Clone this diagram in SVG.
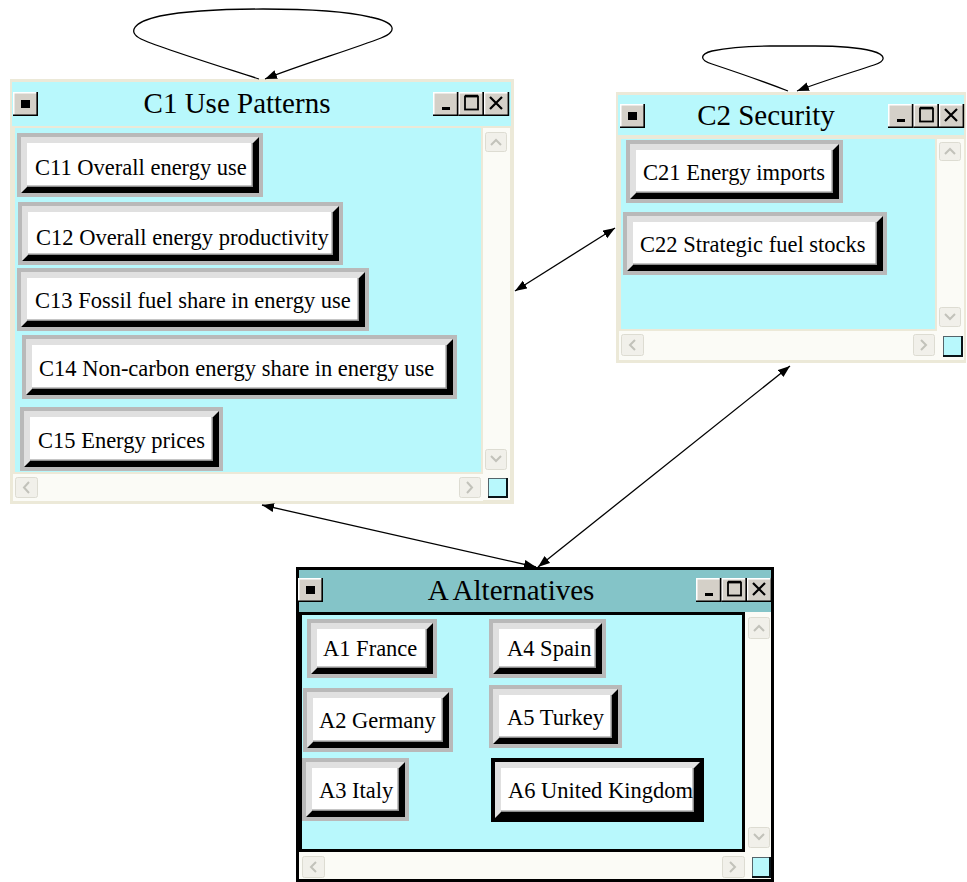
<svg xmlns="http://www.w3.org/2000/svg" xmlns:xlink="http://www.w3.org/1999/xlink" width="967" height="882" viewBox="0 0 967 882">
<style>
.frame{fill:#ece9d8}
.cy{fill:#b8f8fc}
.teal{fill:#84c4c8}
.track{fill:#fbfbf6}
.sbtn{fill:#f1f0ea;stroke:#dddcd2;stroke-width:1}
.chev{fill:none;stroke:#c2c2ba;stroke-width:2}
.corner{fill:#b8f8fc;stroke:#54646a;stroke-width:1}
.cornsh{fill:none;stroke:#0a1418;stroke-width:2}
.gray{fill:#b9b9b9}
.blk{fill:#000}
.lite{fill:#e0e0e0}
.face{fill:#fff}
.inner{fill:none;stroke:#8c8c8c;stroke-width:1.5}
.lbl{font-family:"Liberation Serif","Times New Roman",serif;font-size:22.5px;fill:#000}
.ttl{font-family:"Liberation Serif","Times New Roman",serif;font-size:29px;fill:#000;text-anchor:middle}
.conn{fill:none;stroke:#000;stroke-width:1.3}
.tb{fill:#d4d0c8}
.hi{fill:none;stroke:#fff;stroke-width:1.5}
.sh{fill:none;stroke:#000;stroke-width:1.6}
</style>
<defs>
<marker id="ah" markerUnits="userSpaceOnUse" markerWidth="13" markerHeight="10" refX="12" refY="4.5" orient="auto-start-reverse">
<path d="M0,0 L12,4.5 L0,9 z" fill="#000"/>
</marker>
<g id="btn1">
<rect class="tb" x="0" y="0" width="25" height="24"/>
<polyline class="hi" points="0.75,23 0.75,0.75 24,0.75"/>
<polyline class="sh" points="0,23.2 24.2,23.2 24.2,0"/>
<rect x="8" y="8" width="9" height="8" fill="#000"/>
</g>
<g id="btns3">
<rect class="tb" x="0" y="0" width="76" height="24"/>
<polyline class="hi" points="0.75,23 0.75,0.75 24,0.75"/>
<polyline class="hi" points="26,23 26,0.75 49,0.75"/>
<polyline class="hi" points="51.5,23 51.5,0.75 75,0.75"/>
<polyline class="sh" points="0,23.2 24.6,23.2 24.6,0"/>
<polyline class="sh" points="25.4,23.2 50.2,23.2 50.2,0"/>
<polyline class="sh" points="51,23.2 75.4,23.2 75.4,0"/>
<rect x="9" y="15" width="8" height="3" fill="#000"/>
<rect x="32" y="4.5" width="13" height="13" fill="none" stroke="#000" stroke-width="1.8"/>
<line x1="32" y1="3.5" x2="45" y2="3.5" stroke="#000" stroke-width="1.5"/>
<path d="M57,5 L69,17 M69,5 L57,17" stroke="#000" stroke-width="2.2" fill="none"/>
</g>
</defs>

<!-- Window C1 -->
<g id="C1">
<rect class="frame" x="10" y="79" width="504" height="425"/>
<rect class="cy" x="12" y="82" width="499" height="44"/>
<use xlink:href="#btn1" x="13" y="92"/>
<use xlink:href="#btns3" x="433" y="92"/>
<text class="ttl" x="237" y="113">C1 Use Patterns</text>
<rect class="cy" x="15" y="128" width="466" height="344"/>
<rect class="track" x="483" y="128" width="27" height="372"/>
<rect class="track" x="13" y="474" width="470" height="27"/>
<rect class="sbtn" x="485.5" y="132.5" width="21" height="19" rx="2"/>
<polyline class="chev" points="491,145 496,140 501,145"/>
<rect class="sbtn" x="485.5" y="449.5" width="21" height="20" rx="2"/>
<polyline class="chev" points="491,456 496,461 501,456"/>
<rect class="sbtn" x="15.5" y="477.5" width="22" height="20" rx="2"/>
<polyline class="chev" points="29,482 24,487.5 29,493"/>
<rect class="sbtn" x="459.5" y="477.5" width="21" height="20" rx="2"/>
<polyline class="chev" points="467,482 472,487.5 467,493"/>
<rect class="corner" x="488.5" y="478.5" width="18" height="18"/>
<polyline class="cornsh" points="488,497 507,497 507,478"/>
</g>

<g id="C11">
<rect class="gray" x="17" y="133" width="246" height="64"/>
<rect class="blk" x="21" y="137" width="238" height="56"/>
<polygon class="lite" points="21,137 259,137 253,143 27,187 21,193"/>
<rect class="face" x="27" y="143" width="226" height="44"/>
<polyline class="inner" points="27,186.25 252.25,186.25 252.25,143"/>
<text class="lbl" x="35" y="175">C11 Overall energy use</text>
</g>
<g id="C12">
<rect class="gray" x="18" y="202" width="325" height="63"/>
<rect class="blk" x="22" y="206" width="317" height="55"/>
<polygon class="lite" points="22,206 339,206 333,212 28,255 22,261"/>
<rect class="face" x="28" y="212" width="305" height="43"/>
<polyline class="inner" points="28,254.25 332.25,254.25 332.25,212"/>
<text class="lbl" x="36" y="245">C12 Overall energy productivity</text>
</g>
<g id="C13">
<rect class="gray" x="17" y="268" width="352" height="63"/>
<rect class="blk" x="21" y="272" width="344" height="55"/>
<polygon class="lite" points="21,272 365,272 359,278 27,321 21,327"/>
<rect class="face" x="27" y="278" width="332" height="43"/>
<polyline class="inner" points="27,320.25 358.25,320.25 358.25,278"/>
<text class="lbl" x="35" y="308">C13 Fossil fuel share in energy use</text>
</g>
<g id="C14">
<rect class="gray" x="22" y="335" width="435" height="64"/>
<rect class="blk" x="26" y="339" width="427" height="56"/>
<polygon class="lite" points="26,339 453,339 447,345 32,389 26,395"/>
<rect class="face" x="32" y="345" width="415" height="44"/>
<polyline class="inner" points="32,388.25 446.25,388.25 446.25,345"/>
<text class="lbl" x="39" y="376">C14 Non-carbon energy share in energy use</text>
</g>
<g id="C15">
<rect class="gray" x="20" y="407" width="203" height="64"/>
<rect class="blk" x="24" y="411" width="195" height="56"/>
<polygon class="lite" points="24,411 219,411 213,417 30,461 24,467"/>
<rect class="face" x="30" y="417" width="183" height="44"/>
<polyline class="inner" points="30,460.25 212.25,460.25 212.25,417"/>
<text class="lbl" x="38" y="448">C15 Energy prices</text>
</g>

<!-- Window C2 -->
<g id="C2">
<rect class="frame" x="616" y="92" width="350" height="271"/>
<rect class="cy" x="618" y="95" width="346" height="40"/>
<use xlink:href="#btn1" x="620" y="104"/>
<use xlink:href="#btns3" x="888" y="104"/>
<text class="ttl" x="766" y="125">C2 Security</text>
<rect class="cy" x="621" y="139" width="314" height="190"/>
<rect class="track" x="937" y="139" width="27" height="221"/>
<rect class="track" x="619" y="331" width="318" height="29"/>
<rect class="sbtn" x="939.5" y="142.5" width="21" height="18" rx="2"/>
<polyline class="chev" points="945,154 950,149 955,154"/>
<rect class="sbtn" x="939.5" y="307.5" width="21" height="19" rx="2"/>
<polyline class="chev" points="945,314 950,319 955,314"/>
<rect class="sbtn" x="621.5" y="334.5" width="22" height="21" rx="2"/>
<polyline class="chev" points="635,340 630,345 635,350"/>
<rect class="sbtn" x="913.5" y="334.5" width="21" height="21" rx="2"/>
<polyline class="chev" points="921,340 926,345 921,350"/>
<rect class="corner" x="943.5" y="336.5" width="18" height="19"/>
<polyline class="cornsh" points="943,356 962,356 962,336"/>
</g>

<g id="C21">
<rect class="gray" x="626" y="140" width="217" height="63"/>
<rect class="blk" x="630" y="144" width="209" height="55"/>
<polygon class="lite" points="630,144 839,144 833,150 636,193 630,199"/>
<rect class="face" x="636" y="150" width="197" height="43"/>
<polyline class="inner" points="636,192.25 832.25,192.25 832.25,150"/>
<text class="lbl" x="643" y="180">C21 Energy imports</text>
</g>
<g id="C22">
<rect class="gray" x="623" y="212" width="264" height="63"/>
<rect class="blk" x="627" y="216" width="256" height="55"/>
<polygon class="lite" points="627,216 883,216 877,222 633,265 627,271"/>
<rect class="face" x="633" y="222" width="244" height="43"/>
<polyline class="inner" points="633,264.25 876.25,264.25 876.25,222"/>
<text class="lbl" x="640" y="252">C22 Strategic fuel stocks</text>
</g>

<!-- Window A -->
<g id="A">
<rect x="297.5" y="568.5" width="475" height="312" fill="#fbfbf6" stroke="#000" stroke-width="3"/>
<rect class="teal" x="299" y="570" width="472" height="42"/>
<use xlink:href="#btn1" x="298" y="578"/>
<use xlink:href="#btns3" x="696" y="578"/>
<text class="ttl" x="511" y="600">A Alternatives</text>
<rect class="cy" x="300.5" y="613.5" width="443" height="237" stroke="#000" stroke-width="3"/>
<rect class="sbtn" x="748.5" y="617.5" width="21" height="21" rx="2"/>
<polyline class="chev" points="754,631 759,626 764,631"/>
<rect class="sbtn" x="748.5" y="827.5" width="21" height="20" rx="2"/>
<polyline class="chev" points="754,834 759,839 764,834"/>
<rect class="sbtn" x="302.5" y="856.5" width="22" height="21" rx="2"/>
<polyline class="chev" points="316,862 311,867 316,872"/>
<rect class="sbtn" x="722.5" y="856.5" width="22" height="21" rx="2"/>
<polyline class="chev" points="730,862 735,867 730,872"/>
<rect class="corner" x="752.5" y="857.5" width="17" height="19"/>
<polyline class="cornsh" points="752,877 770,877 770,857"/>
</g>

<g id="A1">
<rect class="gray" x="307" y="619" width="130" height="59"/>
<rect class="blk" x="311" y="623" width="122" height="51"/>
<polygon class="lite" points="311,623 433,623 427,629 317,668 311,674"/>
<rect class="face" x="317" y="629" width="110" height="39"/>
<polyline class="inner" points="317,667.25 426.25,667.25 426.25,629"/>
<text class="lbl" x="323" y="656">A1 France</text>
</g>
<g id="A4">
<rect class="gray" x="489" y="619" width="117" height="59"/>
<rect class="blk" x="493" y="623" width="109" height="51"/>
<polygon class="lite" points="493,623 602,623 596,629 499,668 493,674"/>
<rect class="face" x="499" y="629" width="97" height="39"/>
<polyline class="inner" points="499,667.25 595.25,667.25 595.25,629"/>
<text class="lbl" x="507" y="656">A4 Spain</text>
</g>
<g id="A2">
<rect class="gray" x="303" y="688" width="150" height="64"/>
<rect class="blk" x="307" y="692" width="142" height="56"/>
<polygon class="lite" points="307,692 449,692 443,698 313,742 307,748"/>
<rect class="face" x="313" y="698" width="130" height="44"/>
<polyline class="inner" points="313,741.25 442.25,741.25 442.25,698"/>
<text class="lbl" x="319" y="728">A2 Germany</text>
</g>
<g id="A5">
<rect class="gray" x="489" y="685" width="133" height="63"/>
<rect class="blk" x="493" y="689" width="125" height="55"/>
<polygon class="lite" points="493,689 618,689 612,695 499,738 493,744"/>
<rect class="face" x="499" y="695" width="113" height="43"/>
<polyline class="inner" points="499,737.25 611.25,737.25 611.25,695"/>
<text class="lbl" x="507" y="725">A5 Turkey</text>
</g>
<g id="A3">
<rect class="gray" x="302" y="758" width="107" height="63"/>
<rect class="blk" x="306" y="762" width="99" height="55"/>
<polygon class="lite" points="306,762 405,762 399,768 312,811 306,817"/>
<rect class="face" x="312" y="768" width="87" height="43"/>
<polyline class="inner" points="312,810.25 398.25,810.25 398.25,768"/>
<text class="lbl" x="319" y="798">A3 Italy</text>
</g>
<g id="A6">
<rect class="blk" x="491" y="758" width="213" height="64"/>
<polygon class="lite" points="495,762 700,762 694,768 501,812 495,818"/>
<rect class="face" x="501" y="768" width="193" height="44"/>
<polyline class="inner" points="501,811.25 693.25,811.25 693.25,768"/>
<text class="lbl" x="508" y="798">A6 United Kingdom</text>
</g>

<!-- Connectors -->
<g id="connectors">
<path class="conn" d="M259,79 C200,60 155,46 141,39 C127,32 133,22 160,16 C190,10 230,9 263,9 C300,9 345,11 370,17 C395,22 399,31 381,38 C350,50 300,65 265,79" marker-end="url(#ah)"/>
<path class="conn" d="M788,91 C760,80 730,70 712,64 C699,60 700,54 712,51 C730,47 750,46 770,46 L815,46 C840,46 860,48 872,51 C887,55 886,61 874,65 C850,73 820,82 797,91" marker-end="url(#ah)"/>
<line class="conn" x1="515" y1="291" x2="615" y2="228" marker-start="url(#ah)" marker-end="url(#ah)"/>
<line class="conn" x1="262" y1="505" x2="536" y2="567" marker-start="url(#ah)" marker-end="url(#ah)"/>
<line class="conn" x1="790" y1="366" x2="538" y2="567" marker-start="url(#ah)" marker-end="url(#ah)"/>
</g>
</svg>
